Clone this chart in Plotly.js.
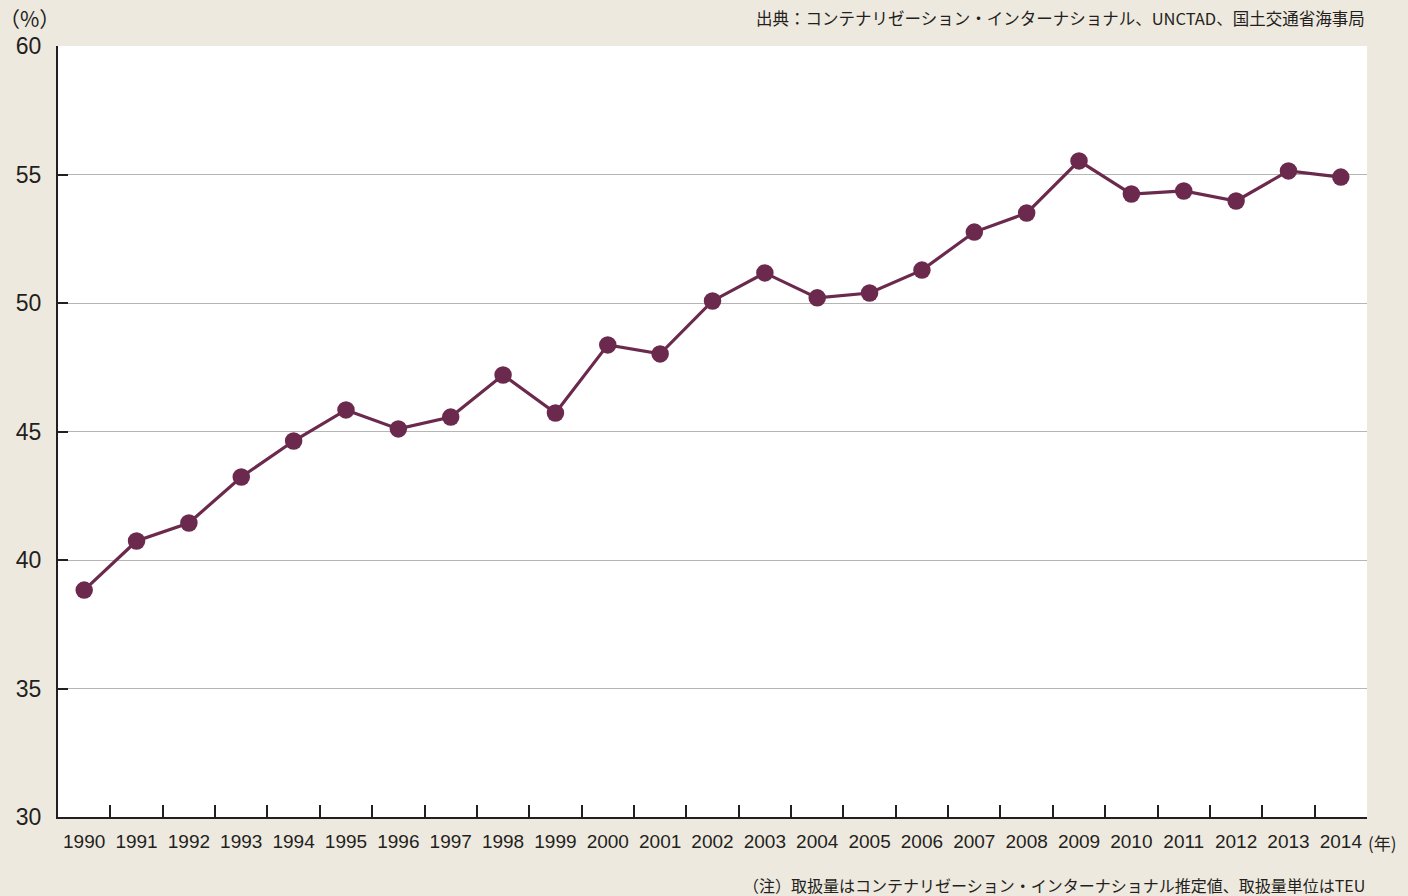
<!DOCTYPE html>
<html><head><meta charset="utf-8">
<script src="https://cdn.plot.ly/plotly-3.0.1.min.js"></script>
<style>html,body{margin:0;padding:0;background:#EEE9DF;}#chart{width:1408px;height:896px;}</style>
</head><body><div id="chart"></div>
<script>
var years = ["1990","1991","1992","1993","1994","1995","1996","1997","1998","1999","2000","2001","2002","2003","2004","2005","2006","2007","2008","2009","2010","2011","2012","2013","2014"];
var share = [38.83,40.74,41.44,43.23,44.63,45.84,45.1,45.56,47.2,45.72,48.37,48.02,50.08,51.17,50.2,50.39,51.28,52.76,53.5,55.53,54.24,54.36,53.97,55.14,54.9];
var yTicks = [30,35,40,45,50,55,60];
var jp = '"Noto Sans CJK JP", "Liberation Sans", sans-serif';
var trace = {x: years, y: share, type: 'scatter', mode: 'lines+markers',
  line: {color: '#6B2A4D', width: 3.2}, marker: {color: '#6B2A4D', size: 17.5}, hoverinfo: 'none'};
var layout = {
  width: 1408, height: 896,
  paper_bgcolor: '#EEE9DF', plot_bgcolor: '#FFFFFF',
  margin: {l: 58, r: 41, t: 46, b: 79},
  showlegend: false,
  xaxis: {type: 'category', tickson: 'boundaries', ticks: 'inside', ticklen: 12, tickwidth: 2, tickcolor: '#231F20',
    showline: true, linecolor: '#231F20', linewidth: 2, showgrid: false, zeroline: false, tickangle: 0,
    ticklabelstandoff: 6,
    tickfont: {family: '"Liberation Sans Narrow", "Liberation Sans", sans-serif', size: 19, color: '#231F20'},
    range: [-0.5, 24.5], fixedrange: true},
  yaxis: {range: [30, 60], tickvals: yTicks, ticks: 'inside', ticklen: 10, tickwidth: 2, tickcolor: '#231F20',
    showline: true, linecolor: '#231F20', linewidth: 2, showgrid: true, gridcolor: '#B5B5B5', gridwidth: 1,
    ticklabelstandoff: 10,
    zeroline: false, tickfont: {family: '"Liberation Sans", sans-serif', size: 23, color: '#231F20'}, fixedrange: true},
  annotations: [
    {text: '（%）', xref: 'paper', yref: 'paper', x: 0, xshift: -29, y: 1.0, yshift: 28, xanchor: 'center', yanchor: 'middle', showarrow: false,
     font: {family: jp, size: 21, color: '#231F20'}},
    {text: '出典：コンテナリゼーション・インターナショナル、UNCTAD、国土交通省海事局', xref: 'paper', yref: 'paper', x: 1, y: 1, yshift: 28,
     xanchor: 'right', yanchor: 'middle', showarrow: false, font: {family: jp, size: 16.5, color: '#231F20'}},
    {text: '(年)', xref: 'paper', yref: 'paper', x: 1, xshift: -1, y: 0, yshift: -25, xanchor: 'left', yanchor: 'middle', showarrow: false,
     font: {family: jp, size: 17, color: '#231F20'}},
    {text: '（注）取扱量はコンテナリゼーション・インターナショナル推定値、取扱量単位はTEU', xref: 'paper', yref: 'paper', x: 1, y: 0, yshift: -68,
     xanchor: 'right', yanchor: 'middle', showarrow: false, font: {family: jp, size: 16, color: '#231F20'}}
  ]
};
Plotly.newPlot('chart', [trace], layout, {displayModeBar: false, staticPlot: true});
</script></body></html>
